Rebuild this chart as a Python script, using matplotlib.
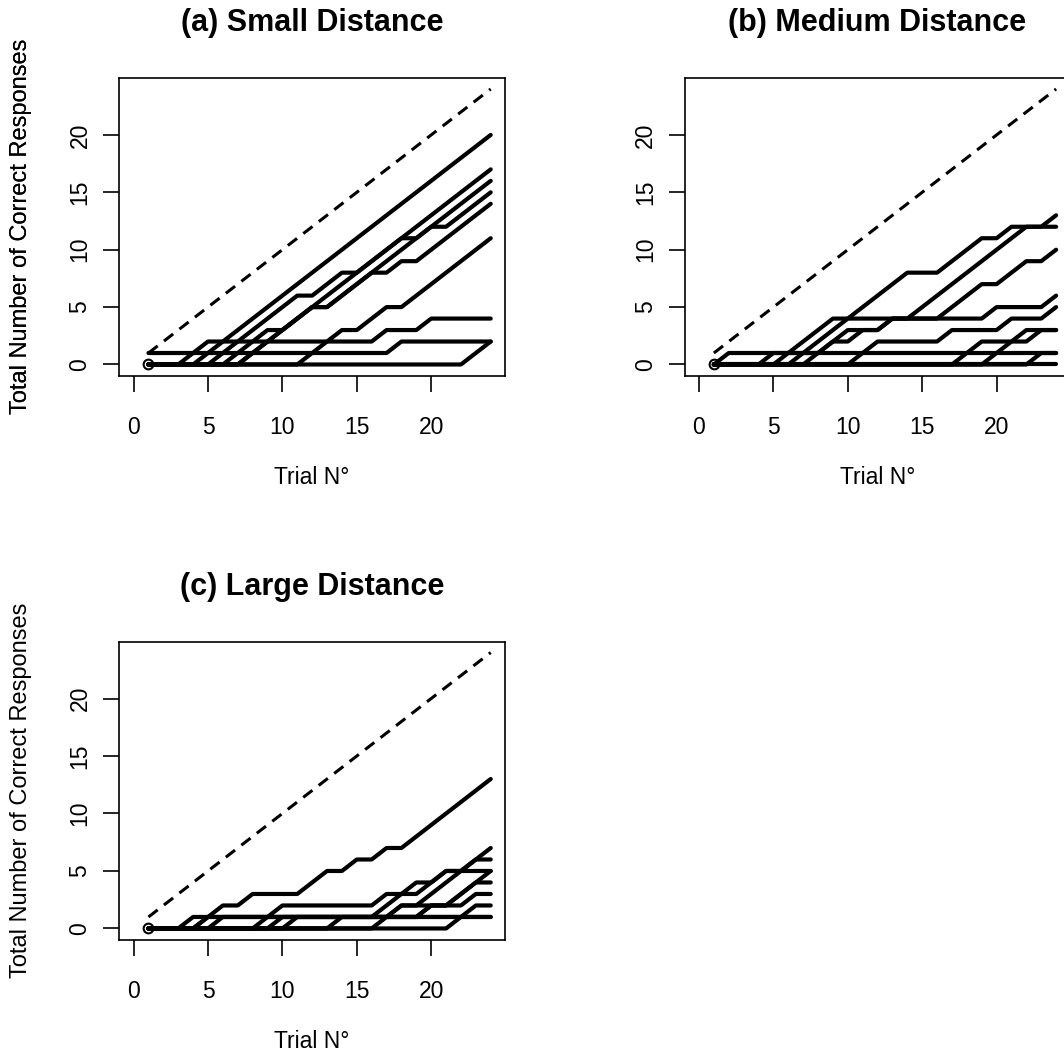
import matplotlib
matplotlib.use("Agg")
import matplotlib.pyplot as plt

plt.rcParams['font.family'] = ['Liberation Sans', 'DejaVu Sans']

trials = list(range(1, 25))
optimal = [1, 2, 3, 4, 5, 6, 7, 8, 9, 10, 11, 12, 13, 14, 15, 16, 17, 18, 19, 20, 21, 22, 23, 24]

# (a) Small distance: cumulative correct responses per participant
small = [
    [0, 0, 0, 0, 1, 2, 3, 4, 5, 6, 7, 8, 9, 10, 11, 12, 13, 14, 15, 16, 17, 18, 19, 20],
    [0, 0, 0, 0, 0, 1, 2, 3, 4, 5, 6, 6, 7, 8, 8, 9, 10, 11, 11, 12, 13, 14, 15, 16],
    [0, 0, 0, 0, 0, 0, 1, 2, 3, 3, 4, 5, 6, 7, 8, 9, 10, 11, 12, 13, 14, 15, 16, 17],
    [0, 0, 0, 0, 0, 0, 0, 1, 2, 3, 4, 5, 5, 6, 7, 8, 9, 10, 11, 12, 12, 13, 14, 15],
    [0, 0, 0, 0, 0, 0, 0, 1, 2, 3, 4, 5, 5, 6, 7, 8, 8, 9, 9, 10, 11, 12, 13, 14],
    [0, 0, 0, 0, 0, 0, 0, 0, 0, 0, 0, 1, 2, 3, 3, 4, 5, 5, 6, 7, 8, 9, 10, 11],
    [0, 0, 0, 1, 2, 2, 2, 2, 2, 2, 2, 2, 2, 2, 2, 2, 3, 3, 3, 4, 4, 4, 4, 4],
    [1, 1, 1, 1, 1, 1, 1, 1, 1, 1, 1, 1, 1, 1, 1, 1, 1, 2, 2, 2, 2, 2, 2, 2],
    [0, 0, 0, 0, 0, 0, 0, 0, 0, 0, 0, 0, 0, 0, 0, 0, 0, 0, 0, 0, 0, 0, 1, 2],
]

# (b) Medium distance
medium = [
    [0, 0, 0, 0, 0, 1, 2, 3, 4, 4, 5, 6, 7, 8, 8, 8, 9, 10, 11, 11, 12, 12, 12, 13],
    [0, 0, 0, 0, 0, 0, 0, 1, 2, 3, 3, 3, 4, 4, 5, 6, 7, 8, 9, 10, 11, 12, 12, 12],
    [0, 0, 0, 0, 1, 1, 1, 1, 2, 2, 3, 3, 4, 4, 4, 4, 5, 6, 7, 7, 8, 9, 9, 10],
    [0, 0, 0, 0, 0, 0, 1, 2, 3, 4, 4, 4, 4, 4, 4, 4, 4, 4, 4, 5, 5, 5, 5, 6],
    [0, 0, 0, 0, 0, 0, 0, 0, 0, 0, 1, 2, 2, 2, 2, 2, 3, 3, 3, 3, 4, 4, 4, 5],
    [0, 1, 1, 1, 1, 1, 1, 1, 1, 1, 1, 1, 1, 1, 1, 1, 1, 1, 2, 2, 2, 3, 3, 3],
    [0, 0, 0, 0, 0, 0, 0, 0, 0, 0, 0, 0, 0, 0, 0, 0, 0, 1, 1, 1, 2, 2, 3, 3],
    [0, 0, 0, 0, 0, 0, 0, 0, 0, 0, 0, 0, 0, 0, 0, 0, 0, 0, 0, 1, 1, 1, 1, 1],
    [0, 0, 0, 0, 0, 0, 0, 0, 0, 0, 0, 0, 0, 0, 0, 0, 0, 0, 0, 0, 0, 0, 1, 1],
    [0, 0, 0, 0, 0, 0, 0, 0, 0, 0, 0, 0, 0, 0, 0, 0, 0, 0, 0, 0, 0, 0, 0, 0],
]

# (c) Large distance
large = [
    [0, 0, 0, 0, 1, 2, 2, 3, 3, 3, 3, 4, 5, 5, 6, 6, 7, 7, 8, 9, 10, 11, 12, 13],
    [0, 0, 0, 0, 0, 0, 0, 0, 1, 2, 2, 2, 2, 2, 2, 2, 3, 3, 4, 4, 5, 5, 6, 7],
    [0, 0, 0, 1, 1, 1, 1, 1, 1, 1, 1, 1, 1, 1, 1, 1, 2, 3, 3, 4, 5, 5, 6, 6],
    [0, 0, 0, 0, 0, 1, 1, 1, 1, 1, 1, 1, 1, 1, 1, 1, 1, 2, 2, 3, 4, 5, 5, 5],
    [0, 0, 0, 0, 0, 0, 0, 0, 0, 1, 1, 1, 1, 1, 1, 1, 1, 1, 1, 2, 2, 3, 4, 5],
    [0, 0, 0, 0, 0, 0, 0, 0, 0, 0, 1, 1, 1, 1, 1, 1, 1, 2, 2, 2, 2, 3, 4, 4],
    [0, 0, 0, 0, 0, 0, 0, 0, 0, 0, 0, 0, 0, 1, 1, 1, 1, 1, 1, 2, 2, 2, 3, 3],
    [0, 0, 0, 0, 0, 0, 0, 0, 0, 0, 0, 0, 0, 0, 0, 0, 1, 1, 1, 1, 1, 1, 2, 2],
    [0, 0, 0, 0, 0, 0, 0, 0, 0, 0, 0, 0, 0, 0, 0, 0, 0, 0, 0, 0, 0, 1, 1, 1],
    [0, 0, 0, 0, 1, 1, 1, 1, 1, 1, 1, 1, 1, 1, 1, 1, 1, 1, 1, 1, 1, 1, 1, 1],
]

titles = ["(a) Small Distance", "(b) Medium Distance", "(c) Large Distance"]
xticks = [0, 5, 10, 15, 20]
yticks = [0, 5, 10, 15, 20]
xlabel = "Trial N\u00b0"
ylabel = "Total Number of Correct Responses"

W, H = 1064, 1061
fig = plt.figure(figsize=(W / 100, H / 100), dpi=100)

# axes boxes in pixels: (left, top, right, bottom)
boxes = [(119.3, 78.0, 505.0, 375.5), (684.7, 78.0, 1070.4, 375.5), (119.3, 641.5, 505.0, 939.5)]
title_y = [23, 23, 587]
datasets = [small, medium, large]

for box, ty, data, title in zip(boxes, title_y, datasets, titles):
    l, t, r, b = box
    ax = fig.add_axes([l / W, 1 - b / H, (r - l) / W, (b - t) / H])
    ax.set_xlim(-0.96, 24.96)
    ax.set_ylim(-0.96, 24.96)
    ax.plot(trials, optimal, color='black', lw=2.2, ls=(0, (3.8, 2.6)),
            dash_capstyle='butt')
    for series in data:
        ax.plot(trials, series, color='black', lw=3.0,
                solid_capstyle='round', solid_joinstyle='round')
    ax.plot([1], [0], marker='o', ms=7, mfc='none', mec='black', mew=1.5, ls='none')
    ax.set_xticks(xticks)
    ax.set_yticks(yticks)
    ax.tick_params(axis='both', direction='out', length=11.5, width=1.2,
                   labelsize=16.5, color='black')
    ax.tick_params(axis='x', pad=17.5)
    ax.tick_params(axis='y', pad=8.5, labelrotation=90)
    for lab in ax.get_yticklabels():
        lab.set_va('center')
    for sp in ax.spines.values():
        sp.set_linewidth(1.2)
    cx = (l + r) / 2
    fig.text(cx / W, 1 - ty / H, title,
             ha='center', va='center', fontsize=22, fontweight='bold')
    fig.text(cx / W, 1 - (b + 102) / H, xlabel, ha='center', va='center', fontsize=16.5)
    fig.text(21 / W, 1 - ((t + b) / 2) / H, ylabel, ha='center', va='center',
             rotation=90, fontsize=17)

fig.savefig("out.png", dpi=100)
